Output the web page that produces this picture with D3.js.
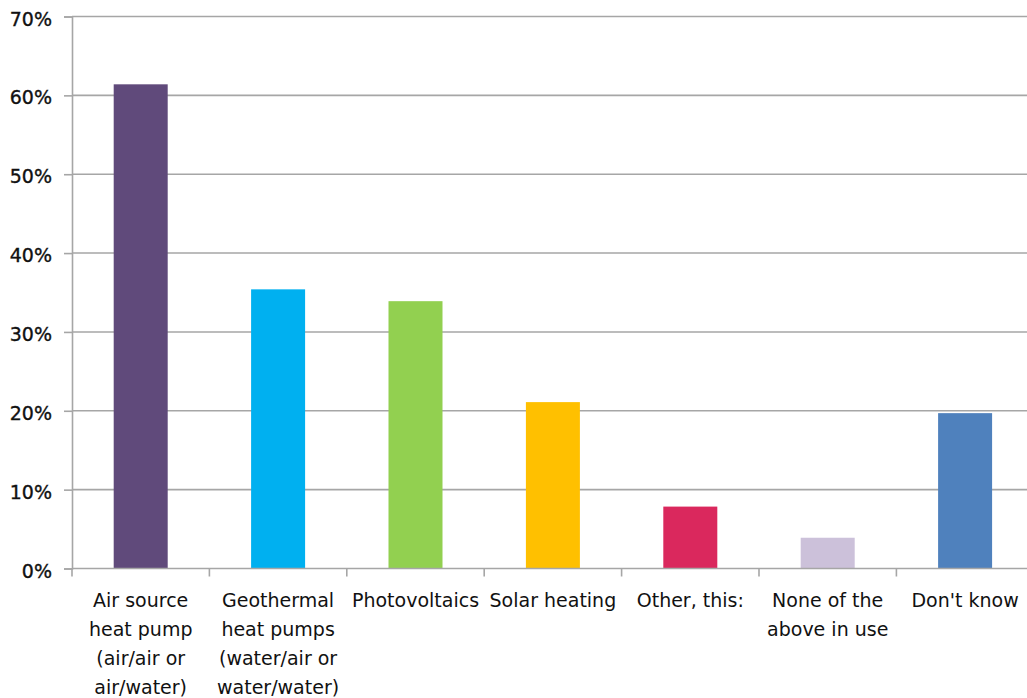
<!DOCTYPE html>
<html>
<head>
<meta charset="utf-8">
<script src="https://cdn.jsdelivr.net/npm/d3@7"></script>
<style>
  html, body { margin: 0; padding: 0; background: #fff; }
  svg { display: block; font-family: "DejaVu Sans", sans-serif; }
</style>
</head>
<body>
<svg id="chart" width="1027" height="698"></svg>
<script>
// Share of respondents by heating technology in use
const categories = [
  ["Air source", "heat pump", "(air/air or", "air/water)"],
  ["Geothermal", "heat pumps", "(water/air or", "water/water)"],
  ["Photovoltaics"],
  ["Solar heating"],
  ["Other, this:"],
  ["None of the", "above in use"],
  ["Don't know"]
];
const values = [61.4, 35.4, 33.9, 21.1, 7.85, 3.9, 19.7];
const colors = ["#604A7B", "#00B0F0", "#92D050", "#FFC000", "#DA285D", "#CCC1DA", "#4F81BD"];
const yTicks = [0, 10, 20, 30, 40, 50, 60, 70];

const svg = d3.select("#chart");
const margin = { left: 72, top: 16.5, bottom: 568.5 };
const bandW = 137.4;
const xRight = margin.left + bandW * categories.length;

const x = d3.scaleBand()
  .domain(d3.range(categories.length))
  .range([margin.left, xRight])
  .paddingInner(0.607)
  .paddingOuter(0.3035);

const y = d3.scaleLinear().domain([0, 70]).range([margin.bottom, margin.top]);

const gridColor = "#A6A6A6";

// horizontal gridlines
svg.append("g")
  .selectAll("line")
  .data(yTicks.filter(d => d > 0))
  .join("line")
  .attr("x1", margin.left).attr("x2", xRight)
  .attr("y1", d => y(d)).attr("y2", d => y(d))
  .attr("stroke", gridColor).attr("stroke-width", 1.6);

// bars
svg.append("g")
  .selectAll("rect")
  .data(values)
  .join("rect")
  .attr("x", (d, i) => x(i))
  .attr("width", x.bandwidth())
  .attr("y", d => y(d))
  .attr("height", d => y(0) - y(d))
  .attr("fill", (d, i) => colors[i]);

// y axis
const yAxis = svg.append("g")
  .attr("transform", `translate(${margin.left},0)`)
  .call(d3.axisLeft(y).tickValues(yTicks).tickFormat(d => d + "%").tickSize(8).tickPadding(12));
yAxis.select(".domain").attr("stroke", gridColor).attr("stroke-width", 1.6);
yAxis.selectAll(".tick line").attr("stroke", gridColor).attr("stroke-width", 1.6);
yAxis.selectAll(".tick text")
  .attr("font-size", 19)
  .attr("font-family", "DejaVu Sans, sans-serif")
  .attr("fill", "#111")
  .attr("stroke", "#111").attr("stroke-width", 0.35)
  .attr("dy", "0.45em");

// x axis with ticks at band boundaries
const xAxisG = svg.append("g");
xAxisG.append("line")
  .attr("x1", margin.left).attr("x2", xRight)
  .attr("y1", y(0)).attr("y2", y(0))
  .attr("stroke", gridColor).attr("stroke-width", 1.6);
xAxisG.selectAll("line.tick")
  .data(d3.range(categories.length + 1))
  .join("line")
  .attr("class", "tick")
  .attr("x1", i => margin.left + i * bandW).attr("x2", i => margin.left + i * bandW)
  .attr("y1", y(0)).attr("y2", y(0) + 8)
  .attr("stroke", gridColor).attr("stroke-width", 1.6);

// category labels
const labels = svg.append("g")
  .selectAll("text")
  .data(categories)
  .join("text")
  .attr("x", (d, i) => x(i) + x.bandwidth() / 2)
  .attr("y", 607)
  .attr("text-anchor", "middle")
  .attr("font-size", 19)
  .attr("fill", "#111");
labels.selectAll("tspan")
  .data((d, i) => d.map(line => ({ line, cx: x(i) + x.bandwidth() / 2 })))
  .join("tspan")
  .attr("x", d => d.cx)
  .attr("dy", (d, j) => j === 0 ? 0 : 29)
  .text(d => d.line);
</script>
</body>
</html>
